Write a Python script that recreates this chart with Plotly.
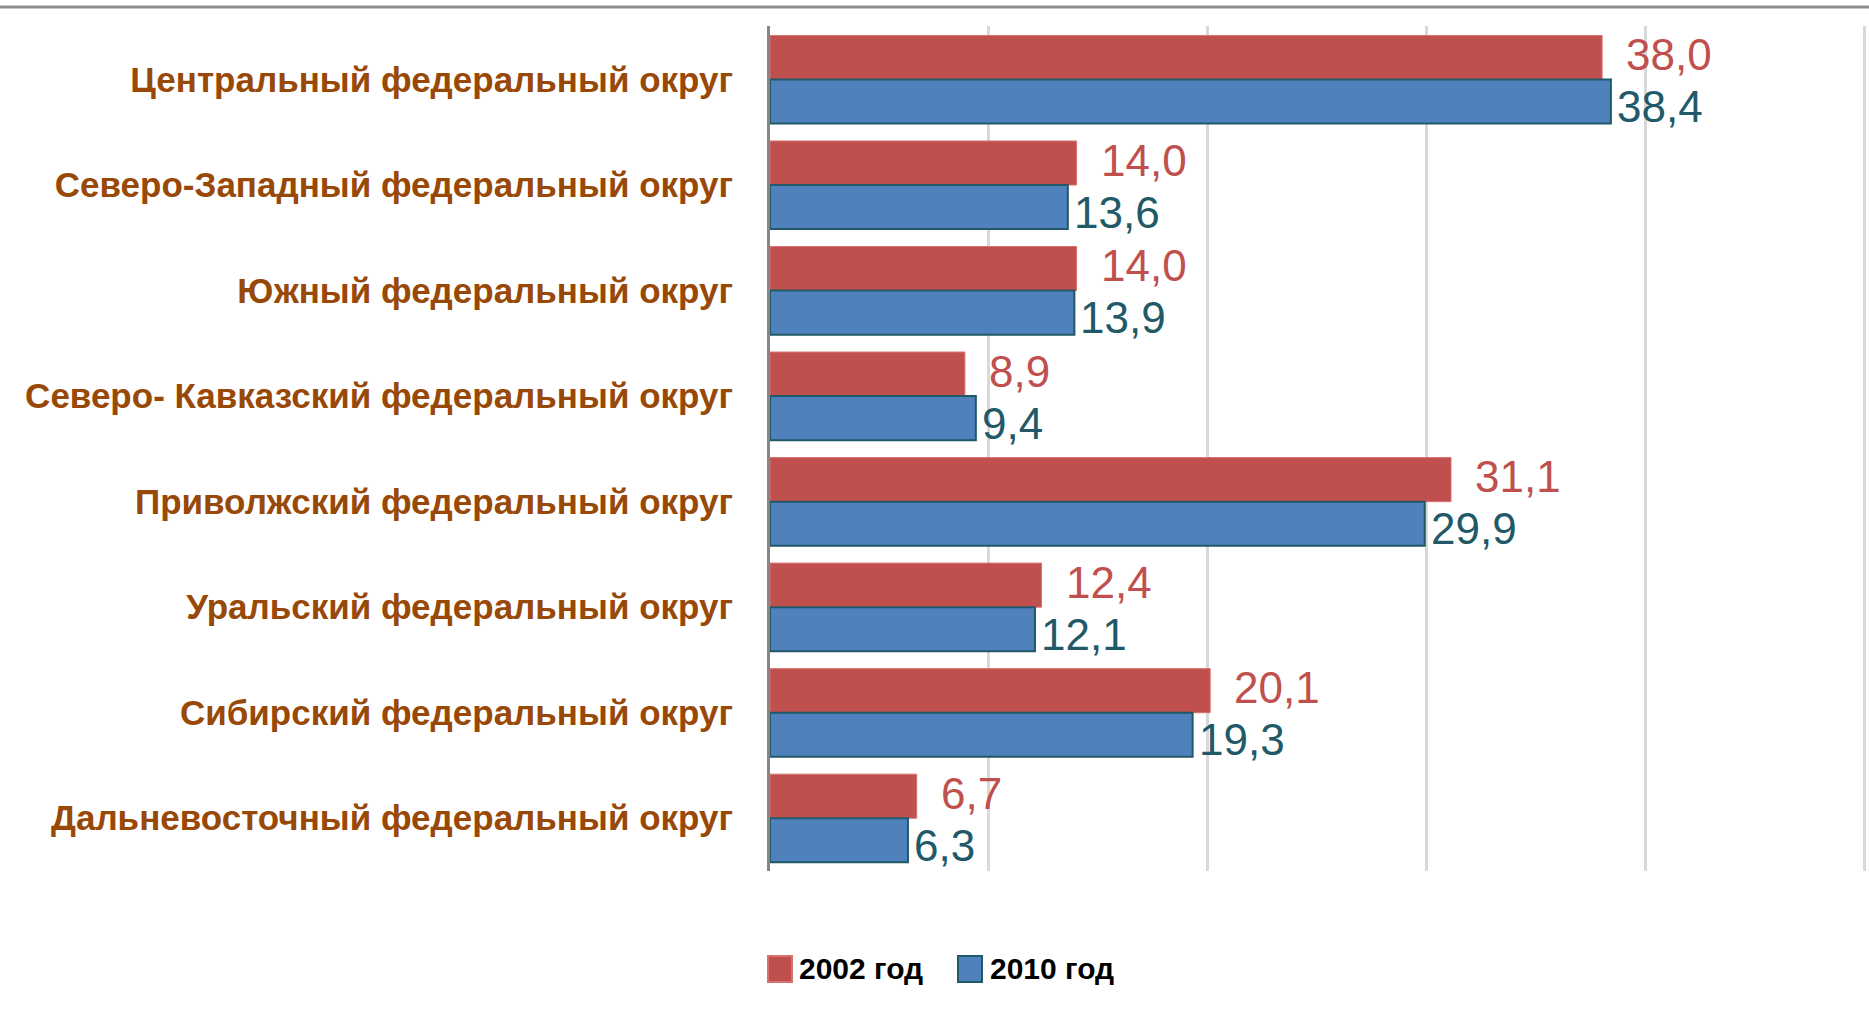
import plotly.graph_objects as go

categories = [
    "Центральный федеральный округ",
    "Северо-Западный федеральный округ",
    "Южный федеральный округ",
    "Северо- Кавказский федеральный округ",
    "Приволжский федеральный округ",
    "Уральский федеральный округ",
    "Сибирский федеральный округ",
    "Дальневосточный федеральный округ",
]
values_2002 = [38.0, 14.0, 14.0, 8.9, 31.1, 12.4, 20.1, 6.7]
values_2010 = [38.4, 13.6, 13.9, 9.4, 29.9, 12.1, 19.3, 6.3]
series_names = ["2002 год", "2010 год"]

RED = "#C0504D"
BLUE = "#4F81BD"
BLUE_EDGE = "#215968"
LABEL_TEAL = "#215968"
CAT_COLOR = "#984807"
FONT = "Liberation Sans, Arial, sans-serif"

W, H = 1869, 1016
ML, MR, MT, MB = 770, 3, 26, 145
PW, PH = W - ML - MR, H - MT - MB

def px_x(p):
    return (p - ML) / PW

def px_y(p):
    return (H - MB - p) / PH

def fmt(v):
    return f"{v:.1f}".replace(".", ",")

fig = go.Figure()
fig.add_trace(go.Bar(
    y=categories, x=values_2002, name=series_names[0], orientation="h",
    marker=dict(color=RED, line=dict(color="#D9726F", width=1)),
))
fig.add_trace(go.Bar(
    y=categories, x=values_2010, name=series_names[1], orientation="h",
    marker=dict(color=BLUE, line=dict(color=BLUE_EDGE, width=2)),
))

annotations = []
for c, v in zip(categories, values_2002):
    annotations.append(dict(
        x=v, y=c, xref="x", yref="y", text=fmt(v), showarrow=False,
        xanchor="left", yanchor="middle", xshift=22, yshift=25,
        font=dict(family=FONT, size=44, color=RED),
    ))
for c, v in zip(categories, values_2010):
    annotations.append(dict(
        x=v, y=c, xref="x", yref="y", text=fmt(v), showarrow=False,
        xanchor="left", yanchor="middle", xshift=4, yshift=-27,
        font=dict(family=FONT, size=44, color=LABEL_TEAL),
    ))

# manual legend (large square swatches like the original)
legend_items = [
    (series_names[0], RED, "#D9726F", 768, 797),
    (series_names[1], BLUE, BLUE_EDGE, 958, 988),
]
shapes = [dict(
    type="line", xref="paper", yref="paper",
    x0=-0.71, x1=1.01, y0=px_y(7), y1=px_y(7),
    line=dict(color="#8C8C8C", width=3),
)]
for name, fill, edge, sx, tx in legend_items:
    shapes.append(dict(
        type="rect", xref="paper", yref="paper",
        x0=px_x(sx), x1=px_x(sx + 24), y0=px_y(982), y1=px_y(956),
        fillcolor=fill, line=dict(color=edge, width=2),
    ))
    annotations.append(dict(
        x=px_x(tx), y=px_y(968), xref="paper", yref="paper", text=name,
        showarrow=False, xanchor="left", yanchor="middle",
        font=dict(family=FONT, size=30, color="black", weight="bold"),
    ))

fig.update_layout(
    width=W, height=H,
    margin=dict(l=ML, r=MR, t=MT, b=MB, autoexpand=False),
    paper_bgcolor="white", plot_bgcolor="white",
    barmode="group", bargap=0.165, bargroupgap=0,
    showlegend=False,
    annotations=annotations,
    shapes=shapes,
)
fig.update_xaxes(
    range=[0, 50.05], dtick=10, showticklabels=False, showgrid=True,
    gridcolor="#D9D9D9", gridwidth=3, zeroline=False, showline=False,
    automargin=False,
)
fig.update_yaxes(
    autorange="reversed", showline=True, linecolor="#868686", linewidth=3,
    ticks="", ticklabelstandoff=27, showgrid=False, automargin=False,
    tickfont=dict(family=FONT, size=35, color=CAT_COLOR, weight="bold"),
)

fig.write_html(
    "out.html",
    config={"displayModeBar": False},
    post_script="document.body.style.margin='0';document.body.style.padding='0';",
)
